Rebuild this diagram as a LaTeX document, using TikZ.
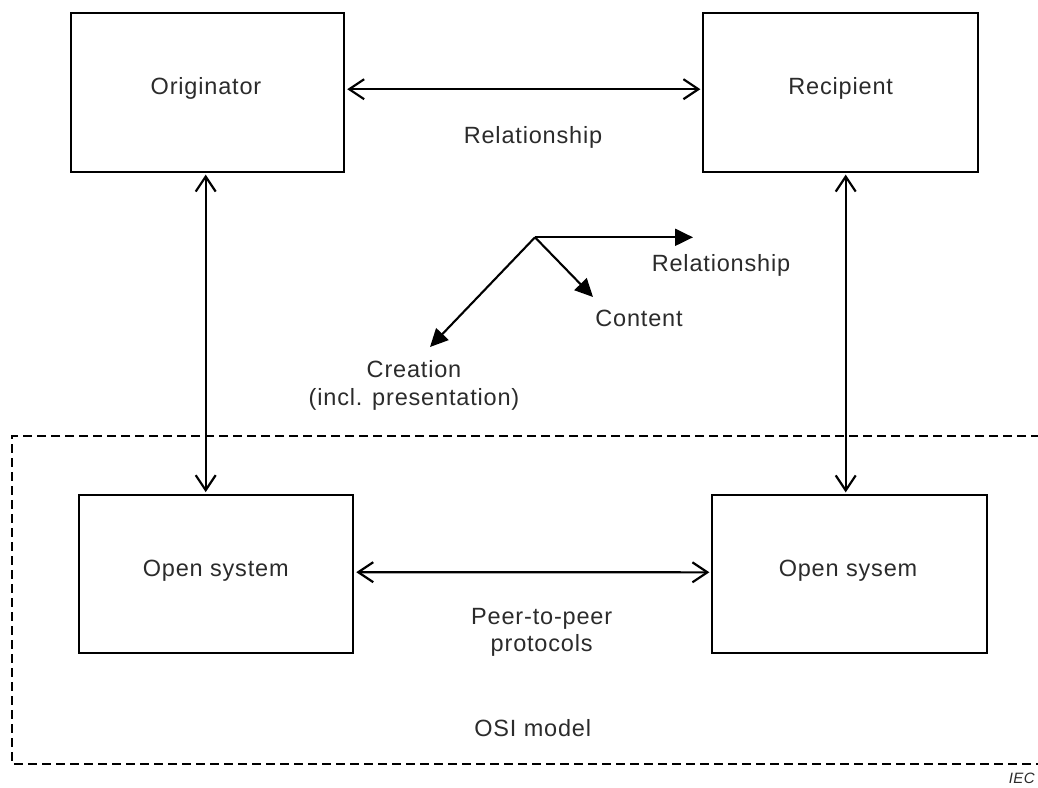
\documentclass[tikz,border=0pt]{standalone}
\usepackage{fontspec}
\setmainfont{Liberation Sans}[LetterSpace=3.5]
\usetikzlibrary{arrows.meta}
\definecolor{txt}{HTML}{2B2B2B}
\begin{document}
\begin{tikzpicture}[x=1pt,y=-1pt,
  block/.style={draw=black,line width=1.8pt,inner sep=0pt},
  lbl/.style={text=txt,font=\fontsize{23.5}{27.5}\selectfont,inner sep=0pt,anchor=base,align=center},
  dbl/.style={line width=2.1pt,
    {Straight Barb[length=15pt,width=20pt,line width=2.2pt]}-{Straight Barb[length=15pt,width=20pt,line width=2.2pt]},
    shorten <=2pt,shorten >=2pt},
  tri/.style={line width=2.1pt,-{Triangle[length=18pt,width=17pt]}},
  osi/.style={line width=1.8pt,dash pattern=on 9pt off 5pt}]
\clip (0,0) rectangle (1038,787);
\fill[white] (0,0) rectangle (1038,787);

% the four blocks
\node[block,minimum width=273.6pt,minimum height=159pt] (orig)  at (207.5,92.2) {};
\node[block,minimum width=275pt,minimum height=159pt]   (recip) at (840.8,92.2) {};
\node[block,minimum width=274.3pt,minimum height=158.3pt] (os1) at (216.2,574.2) {};
\node[block,minimum width=274.4pt,minimum height=158pt]   (os2) at (849.5,574.3) {};

\node[lbl] (torig)  at (206,94) {Originator};
\node[lbl] (trecip) at (840.7,94) {Recipient};
\node[lbl] (tos1)   at (215.7,576.5) {Open system};
\node[lbl] (tos2)   at (848,576.5) {Open sysem};

% OSI boundary
\draw[osi] (1040,436) -- (12,436) -- (12,764) -- (1040,764);
\node[lbl] (tosi) at (532.7,736.7) {OSI model};

% relations between the blocks
\draw[dbl] ([yshift=3pt]orig.east) -- ([yshift=3pt]recip.west);
\node[lbl] (trel) at (533,143.3) {Relationship};

\draw[dbl] ([yshift=2pt]os1.east) -- ([yshift=2pt]os2.west);
\node[lbl] (tpeer) at (541.7,651.7) {Peer-to-peer\\protocols};

\coordinate (lv) at (205.7,0);
\coordinate (rv) at (845.7,0);
\draw[dbl] (orig.south -| lv) -- (os1.north -| lv);
\draw[dbl] (recip.south -| rv) -- (os2.north -| rv);

% aspects of the relation
\coordinate (hub) at (535,237.3);
\coordinate (eRel) at (693,237.3);
\coordinate (eCon) at (593,297);
\coordinate (eCre) at (430,347);
\draw[tri] (hub) -- (eRel);
\draw[tri] (hub) -- (eCon);
\draw[tri] (hub) -- (eCre);
\node[lbl] (tr2) at (721,271.7) {Relationship};
\node[lbl] (tcon) at (639,326.7) {Content};
\node[lbl] (tcre) at (414,405) {Creation\\(incl. presentation)};

\node[text=txt,font=\fontsize{15}{18}\selectfont\itshape,inner sep=0pt,anchor=base east] (iec) at (1035,783) {IEC};
\end{tikzpicture}
\end{document}
